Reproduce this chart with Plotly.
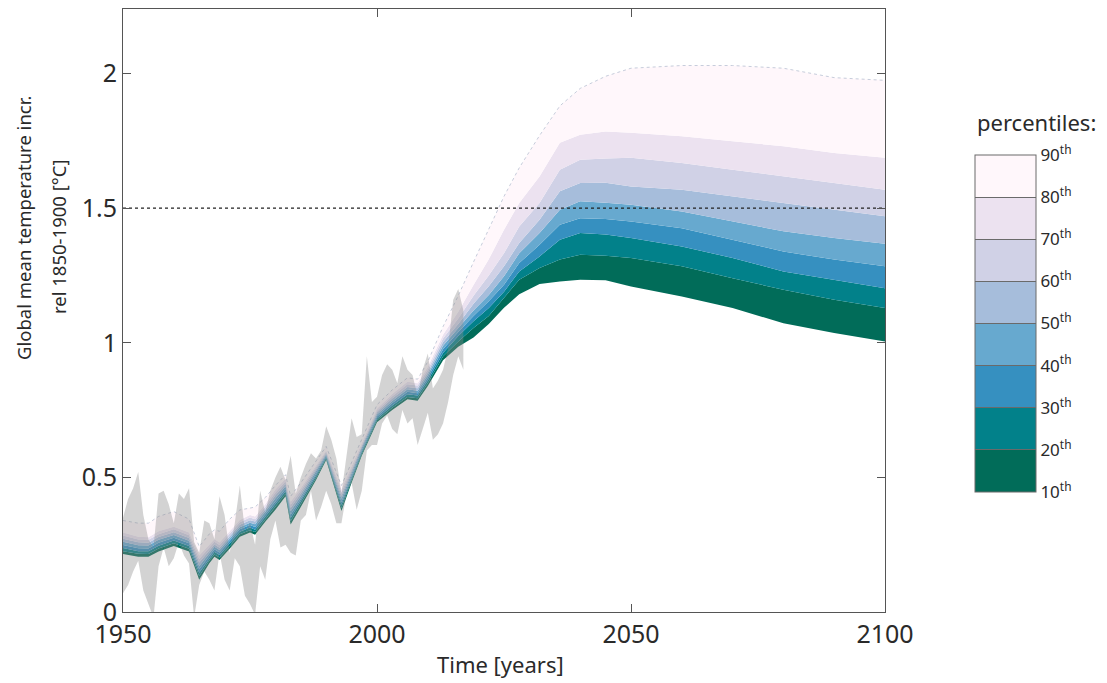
import plotly.graph_objects as go

# ---------------- data ----------------
years = [1950, 1953, 1955, 1957, 1960, 1963, 1965, 1967, 1968, 1969, 1971, 1973, 1975, 1976, 1978,
         1980, 1982, 1983, 1985, 1988, 1990, 1993, 1995, 1997, 2000, 2003, 2006, 2008, 2010, 2013,
         2016, 2019, 2022, 2025, 2028, 2032, 2036, 2040, 2045, 2050, 2060, 2070, 2080, 2090, 2100]

p10 = [0.215, 0.205, 0.205, 0.225, 0.245, 0.225, 0.120, 0.181, 0.205, 0.193, 0.235, 0.280, 0.295, 0.287, 0.335,
       0.380, 0.430, 0.325, 0.390, 0.490, 0.565, 0.375, 0.480, 0.580, 0.705, 0.750, 0.790, 0.785, 0.840, 0.935,
       0.985, 1.020, 1.070, 1.130, 1.180, 1.218, 1.228, 1.234, 1.232, 1.209, 1.172, 1.129, 1.073, 1.036, 1.005]
p20 = [0.226, 0.216, 0.215, 0.236, 0.255, 0.235, 0.133, 0.191, 0.214, 0.202, 0.244, 0.289, 0.304, 0.297, 0.344,
       0.391, 0.439, 0.337, 0.400, 0.498, 0.570, 0.386, 0.489, 0.587, 0.712, 0.759, 0.799, 0.794, 0.850, 0.949,
       1.005, 1.055, 1.100, 1.166, 1.234, 1.278, 1.309, 1.327, 1.323, 1.315, 1.284, 1.240, 1.197, 1.160, 1.129]
p30 = [0.238, 0.226, 0.226, 0.246, 0.266, 0.245, 0.146, 0.201, 0.224, 0.212, 0.254, 0.298, 0.314, 0.306, 0.354,
       0.401, 0.449, 0.349, 0.410, 0.506, 0.575, 0.398, 0.497, 0.594, 0.719, 0.767, 0.809, 0.804, 0.860, 0.962,
       1.025, 1.080, 1.129, 1.190, 1.265, 1.321, 1.383, 1.408, 1.402, 1.389, 1.358, 1.315, 1.265, 1.234, 1.203]
p40 = [0.249, 0.237, 0.236, 0.257, 0.276, 0.255, 0.159, 0.211, 0.233, 0.221, 0.263, 0.307, 0.323, 0.316, 0.363,
       0.412, 0.458, 0.361, 0.420, 0.514, 0.580, 0.409, 0.506, 0.601, 0.726, 0.776, 0.818, 0.813, 0.870, 0.976,
       1.040, 1.100, 1.154, 1.216, 1.296, 1.364, 1.439, 1.463, 1.460, 1.451, 1.426, 1.383, 1.339, 1.309, 1.284]
p50 = [0.261, 0.248, 0.247, 0.268, 0.286, 0.265, 0.171, 0.220, 0.242, 0.230, 0.272, 0.315, 0.332, 0.326, 0.372,
       0.423, 0.467, 0.374, 0.430, 0.521, 0.585, 0.421, 0.514, 0.609, 0.734, 0.784, 0.827, 0.822, 0.880, 0.989,
       1.055, 1.120, 1.178, 1.247, 1.333, 1.408, 1.494, 1.526, 1.520, 1.513, 1.488, 1.451, 1.414, 1.389, 1.368]
p60 = [0.272, 0.259, 0.257, 0.279, 0.296, 0.275, 0.184, 0.230, 0.251, 0.239, 0.281, 0.324, 0.341, 0.336, 0.381,
       0.434, 0.476, 0.386, 0.440, 0.529, 0.590, 0.432, 0.523, 0.616, 0.741, 0.793, 0.836, 0.831, 0.890, 1.003,
       1.070, 1.145, 1.210, 1.284, 1.371, 1.457, 1.563, 1.594, 1.595, 1.581, 1.569, 1.544, 1.519, 1.494, 1.470]
p70 = [0.284, 0.269, 0.268, 0.289, 0.307, 0.285, 0.197, 0.240, 0.261, 0.249, 0.291, 0.333, 0.351, 0.345, 0.391,
       0.444, 0.486, 0.398, 0.450, 0.537, 0.595, 0.444, 0.531, 0.623, 0.748, 0.801, 0.846, 0.841, 0.900, 1.016,
       1.090, 1.175, 1.250, 1.333, 1.432, 1.519, 1.643, 1.680, 1.685, 1.687, 1.668, 1.643, 1.618, 1.594, 1.569]
p80 = [0.295, 0.280, 0.278, 0.300, 0.317, 0.295, 0.210, 0.250, 0.270, 0.258, 0.300, 0.342, 0.360, 0.355, 0.400,
       0.455, 0.495, 0.410, 0.460, 0.545, 0.600, 0.455, 0.540, 0.630, 0.755, 0.810, 0.855, 0.850, 0.910, 1.030,
       1.115, 1.215, 1.310, 1.420, 1.519, 1.618, 1.743, 1.773, 1.785, 1.780, 1.767, 1.749, 1.730, 1.705, 1.687]
p90 = [0.340, 0.330, 0.330, 0.355, 0.373, 0.345, 0.243, 0.290, 0.305, 0.300, 0.345, 0.379, 0.386, 0.390, 0.425,
       0.470, 0.510, 0.430, 0.480, 0.560, 0.615, 0.470, 0.555, 0.645, 0.770, 0.825, 0.870, 0.865, 0.930, 1.060,
       1.175, 1.300, 1.420, 1.544, 1.650, 1.770, 1.880, 1.945, 1.990, 2.020, 2.030, 2.030, 2.020, 1.985, 1.975]

obs_years = list(range(1950, 2018))
obs_upper = [0.35, 0.42, 0.46, 0.52, 0.36, 0.27, 0.24, 0.44, 0.45, 0.40,
             0.33, 0.44, 0.42, 0.46, 0.26, 0.22, 0.34, 0.33, 0.27, 0.43,
             0.36, 0.22, 0.33, 0.47, 0.30, 0.33, 0.25, 0.45, 0.37, 0.45,
             0.50, 0.54, 0.49, 0.58, 0.44, 0.50, 0.55, 0.59, 0.57, 0.60,
             0.69, 0.64, 0.57, 0.44, 0.58, 0.72, 0.65, 0.66, 0.95, 0.78,
             0.80, 0.88, 0.92, 0.90, 0.85, 0.95, 0.90, 0.88, 0.80, 0.90,
             0.96, 0.83, 0.86, 0.90, 0.98, 1.16, 1.20, 1.12]
obs_lower = [0.07, 0.10, 0.15, 0.19, 0.08, 0.03, -0.02, 0.17, 0.24, 0.17,
             0.20, 0.26, 0.21, 0.18, -0.02, 0.10, 0.15, 0.12, 0.08, 0.22,
             0.12, 0.08, 0.20, 0.17, 0.06, 0.03, -0.01, 0.17, 0.12, 0.27,
             0.34, 0.24, 0.25, 0.22, 0.21, 0.34, 0.36, 0.45, 0.34, 0.39,
             0.45, 0.40, 0.33, 0.33, 0.44, 0.48, 0.38, 0.45, 0.60, 0.62,
             0.62, 0.70, 0.73, 0.68, 0.66, 0.75, 0.70, 0.72, 0.62, 0.68,
             0.74, 0.64, 0.66, 0.70, 0.78, 0.88, 0.95, 0.90]

threshold = 1.5
pct_levels = [10, 20, 30, 40, 50, 60, 70, 80, 90]
pct_labels = [f"{p}<sup>th</sup>" for p in pct_levels]
x_ticks = [1950, 2000, 2050, 2100]
y_ticks = [0, 0.5, 1, 1.5, 2]
y_ticklabels = ['0', '0.5', '1', '1.5', '2']

# ---------------- style ----------------
band_colors = ['#016c59', '#02818a', '#3690c0', '#67a9cf', '#a6bddb', '#d0d1e6', '#ece2f0', '#fff7fb']
FONT = "Noto Sans"
TXT = "#2a2a2a"
AX = "#555555"

# The page body adds an 8px margin, so the figure is drawn 8px smaller and
# all pixel positions below are given in page pixels, then shifted by OFF.
OFF = 8
FW, FH = 1107 - OFF, 683 - OFF
L, R, T, B = 123 - OFF, 885 - OFF, 9 - OFF, 612 - OFF
W, H = R - L, B - T
def px(xp): return (xp - OFF - L) / W
def py(yp): return (B - (yp - OFF)) / H

fig = go.Figure()
series = [p10, p20, p30, p40, p50, p60, p70, p80, p90]

fig.add_trace(go.Scatter(x=years, y=series[0], mode='lines', line=dict(width=0, color=band_colors[0]),
                         showlegend=False, hoverinfo='skip'))
for i in range(1, 9):
    is_top = (i == 8)
    fig.add_trace(go.Scatter(
        x=years, y=series[i], mode='lines', fill='tonexty', fillcolor=band_colors[i - 1],
        line=dict(width=0.8 if is_top else 0, color='#b8c0d2' if is_top else band_colors[i - 1],
                  dash='dot' if is_top else 'solid'),
        showlegend=False, hoverinfo='skip'))

# observational range (grey, translucent)
fig.add_trace(go.Scatter(x=obs_years, y=obs_lower, mode='lines', line=dict(width=0, color='rgba(0,0,0,0)'),
                         showlegend=False, hoverinfo='skip'))
fig.add_trace(go.Scatter(x=obs_years, y=obs_upper, mode='lines', fill='tonexty',
                         fillcolor='rgba(140,140,140,0.38)', line=dict(width=0, color='rgba(0,0,0,0)'),
                         showlegend=False, hoverinfo='skip'))

# 1.5 degree line
fig.add_trace(go.Scatter(x=[x_ticks[0], x_ticks[-1]], y=[threshold, threshold], mode='lines',
                         line=dict(color='#222222', width=1.2, dash='3px,3px'),
                         showlegend=False, hoverinfo='skip'))

# discrete colour bar legend
n = len(band_colors)
cs = []
for i, c in enumerate(band_colors):
    cs.append([i / n, c])
    cs.append([(i + 1) / n, c])
fig.add_trace(go.Scatter(
    x=[x_ticks[0]], y=[-1], mode='markers',
    marker=dict(size=1, color=[pct_levels[0]], cmin=pct_levels[0], cmax=pct_levels[-1], colorscale=cs,
                showscale=True,
                colorbar=dict(x=px(975), xanchor='left', xpad=0,
                              y=py(323.5), yanchor='middle', ypad=0,
                              lenmode='pixels', len=337, thicknessmode='pixels', thickness=61,
                              outlinecolor='#6a6a6a', outlinewidth=1,
                              tickvals=pct_levels, ticktext=pct_labels,
                              ticks='inside', ticklen=61, tickcolor='#6a6a6a', tickwidth=1,
                              tickfont=dict(family=FONT, size=17, color=TXT))),
    showlegend=False, hoverinfo='skip'))

fig.update_layout(
    width=FW, height=FH,
    margin=dict(l=L, r=FW - R, t=T, b=FH - B, autoexpand=False),
    paper_bgcolor='white', plot_bgcolor='white',
    font=dict(family=FONT, color=TXT),
    xaxis=dict(range=[1950, 2100], tickvals=x_ticks, ticks='inside', ticklen=8, tickcolor=AX,
               showline=True, linecolor=AX, linewidth=1, mirror='ticks', showgrid=False, zeroline=False,
               automargin=False, tickfont=dict(family=FONT, size=25, color=TXT)),
    yaxis=dict(range=[0, 2.24], tickvals=y_ticks, ticktext=y_ticklabels,
               ticks='inside', ticklen=8, tickcolor=AX,
               showline=True, linecolor=AX, linewidth=1, mirror='ticks', showgrid=False, zeroline=False,
               automargin=False, tickfont=dict(family=FONT, size=25, color=TXT)),
    annotations=[
        dict(text='Global mean temperature incr.', x=px(23), y=py(228),
             xref='paper', yref='paper', xanchor='center', yanchor='middle', textangle=-90,
             showarrow=False, font=dict(family=FONT, size=18.5, color=TXT)),
        dict(text='rel 1850-1900 [°C]', x=px(58), y=py(237),
             xref='paper', yref='paper', xanchor='center', yanchor='middle', textangle=-90,
             showarrow=False, font=dict(family=FONT, size=18.5, color=TXT)),
        dict(text='Time [years]', x=px(500), y=py(664),
             xref='paper', yref='paper', xanchor='center', yanchor='middle',
             showarrow=False, font=dict(family=FONT, size=22, color=TXT)),
        dict(text='percentiles:', x=px(975), y=py(122),
             xref='paper', yref='paper', xanchor='left', yanchor='middle',
             showarrow=False, font=dict(family=FONT, size=22, color=TXT)),
    ],
)

fig.write_html("out.html")
